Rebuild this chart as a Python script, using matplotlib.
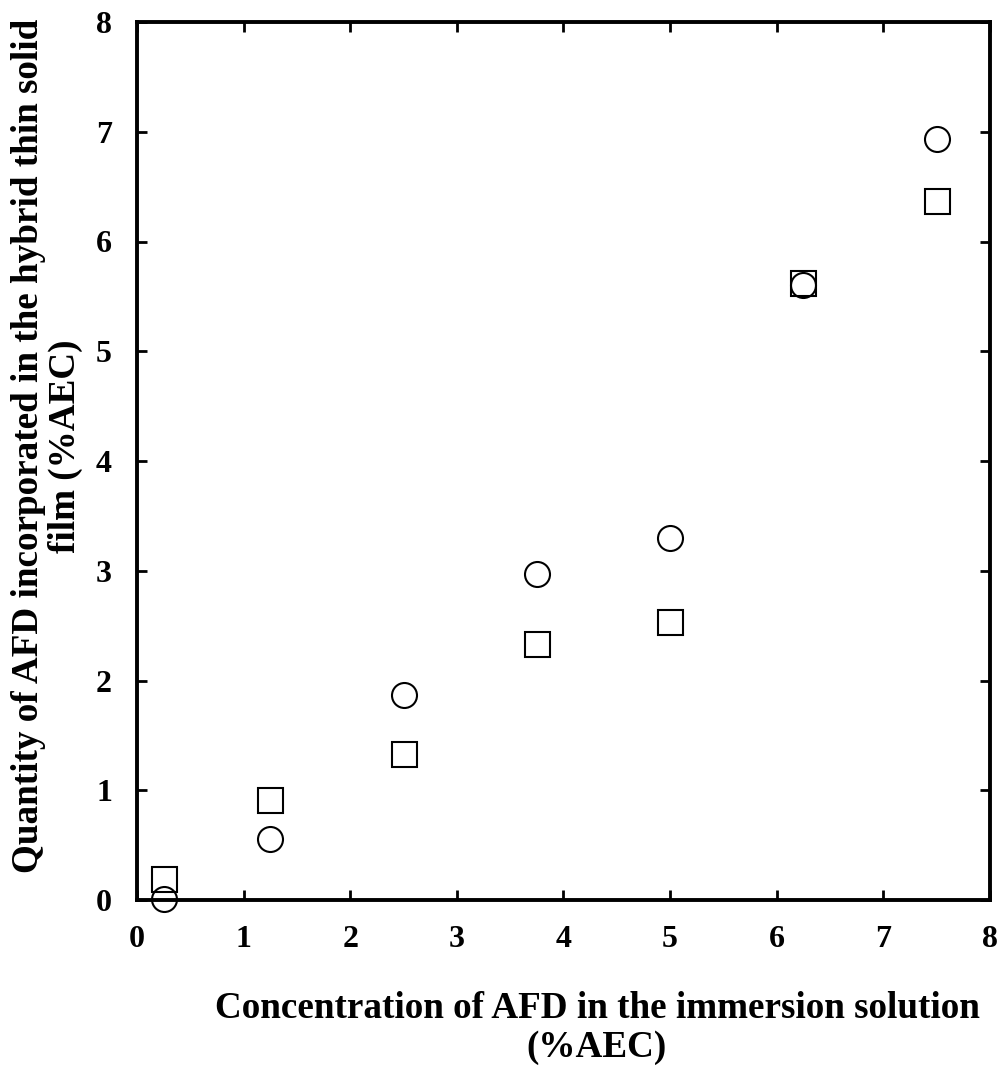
import matplotlib.pyplot as plt
import numpy as np

# concentration in the immersion solution (%AEC)
conc = [0.25, 1.25, 2.5, 3.75, 5.0, 6.25, 7.5]
# quantity incorporated, two series
squares = [0.19, 0.91, 1.33, 2.33, 2.53, 5.62, 6.37]
circles = [0.01, 0.56, 1.87, 2.97, 3.30, 5.60, 6.93]

xticks = [0, 1, 2, 3, 4, 5, 6, 7, 8]
yticks = [0, 1, 2, 3, 4, 5, 6, 7, 8]

xlabel_lines = ['Concentration of AFD in the immersion solution', '(%AEC)']
ylabel = 'Quantity of AFD incorporated in the hybrid thin solid\nfilm (%AEC)'

plt.rcParams['font.family'] = ['Liberation Serif', 'DejaVu Serif']
plt.rcParams['font.weight'] = 'bold'

fig = plt.figure(figsize=(10.03, 10.74), dpi=100)
ax = fig.add_axes([137 / 1003, 1 - 900 / 1074, (990 - 137) / 1003, (900 - 22) / 1074])

ax.plot(conc, squares, 's', markersize=18, markerfacecolor='white',
        markeredgecolor='black', markeredgewidth=1.5, clip_on=False)
ax.plot(conc, circles, 'o', markersize=18, markerfacecolor='none',
        markeredgecolor='black', markeredgewidth=1.5, clip_on=False)

ax.set_xlim(0, 8)
ax.set_ylim(0, 8)
ax.set_xticks(xticks)
ax.set_yticks(yticks)
ax.tick_params(direction='in', length=7, width=2, top=True, right=True,
               labelsize=23)
ax.tick_params(axis='x', pad=18)
ax.tick_params(axis='y', pad=18)
for lab in ax.get_xticklabels() + ax.get_yticklabels():
    lab.set_fontweight('bold')
for s in ax.spines.values():
    s.set_linewidth(2.8)

# x label, two centred lines
for txt, ybase in zip(xlabel_lines, [1018, 1057]):
    fig.text(597 / 1003, 1 - ybase / 1074, txt, ha='center', va='baseline',
             fontsize=26.7, fontweight='bold')

fig.text(47 / 1003, 1 - 446 / 1074, ylabel,
         ha='center', va='center', multialignment='center', rotation=90,
         fontsize=26.7, fontweight='bold', linespacing=1.1)

fig.savefig('out.png', dpi=100)
